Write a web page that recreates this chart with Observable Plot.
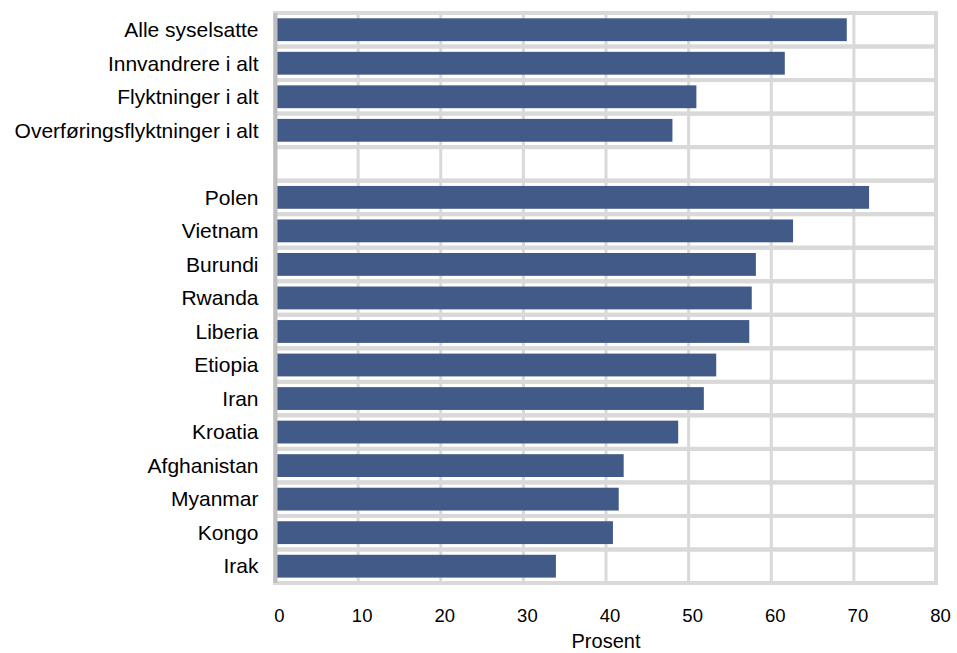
<!DOCTYPE html>
<html>
<head>
<meta charset="utf-8">
<script src="https://cdn.jsdelivr.net/npm/d3@7"></script>
<script src="https://cdn.jsdelivr.net/npm/@observablehq/plot@0.6"></script>
<style>
  html, body { margin: 0; padding: 0; background: #fff; }
  svg { display: block; }
</style>
</head>
<body>
<div id="chart"></div>
<script>
const summaryCats = ["Alle syselsatte", "Innvandrere i alt", "Flyktninger i alt", "Overføringsflyktninger i alt"];
const summaryVals = [69.2, 61.7, 51.0, 48.1];
const countryCats = ["Polen", "Vietnam", "Burundi", "Rwanda", "Liberia", "Etiopia", "Iran", "Kroatia", "Afghanistan", "Myanmar", "Kongo", "Irak"];
const countryVals = [71.9, 62.7, 58.2, 57.7, 57.4, 53.4, 51.9, 48.8, 42.2, 41.6, 40.9, 34.0];
const xTicks = [0, 10, 20, 30, 40, 50, 60, 70, 80];
const xLabel = "Prosent";

const blank = "";
const allCats = [...summaryCats, blank, ...countryCats];
const data = [
  ...summaryCats.map((c, i) => ({cat: c, value: summaryVals[i]})),
  ...countryCats.map((c, i) => ({cat: c, value: countryVals[i]}))
];

const grid = "#d9d9d9";

const chart = Plot.plot({
  width: 957,
  height: 653,
  marginTop: 13,
  marginBottom: 70,
  marginLeft: 275,
  marginRight: 21,
  style: {fontFamily: "'Liberation Sans', Arial, sans-serif", color: "#000", background: "#fff"},
  x: {domain: [0, 80], ticks: xTicks, round: false},
  y: {domain: allCats, padding: 0, round: false},
  marks: [
    Plot.ruleX(xTicks, {stroke: grid, strokeWidth: 3}),
    Plot.barX(allCats, {x1: 0, x2: 80, y: d => d, fill: "none", stroke: grid, strokeWidth: 4}),
    Plot.barX(data, {x: "value", y: "cat", fill: "#425a87", insetTop: 5.3, insetBottom: 5.4}),
    Plot.ruleX([0], {stroke: "#bfbfbf", strokeWidth: 4}),
    Plot.axisX({ticks: xTicks, tickSize: 0, tickPadding: 25, fontSize: 18.5, dx: 4, label: null}),
    Plot.text([xLabel], {frameAnchor: "bottom", lineAnchor: "bottom", dy: 64, fontSize: 20, fill: "#000"}),
    Plot.axisY({tickSize: 0, tickPadding: 17, fontSize: 21, label: null})
  ]
});
document.getElementById("chart").appendChild(chart);
</script>
</body>
</html>
